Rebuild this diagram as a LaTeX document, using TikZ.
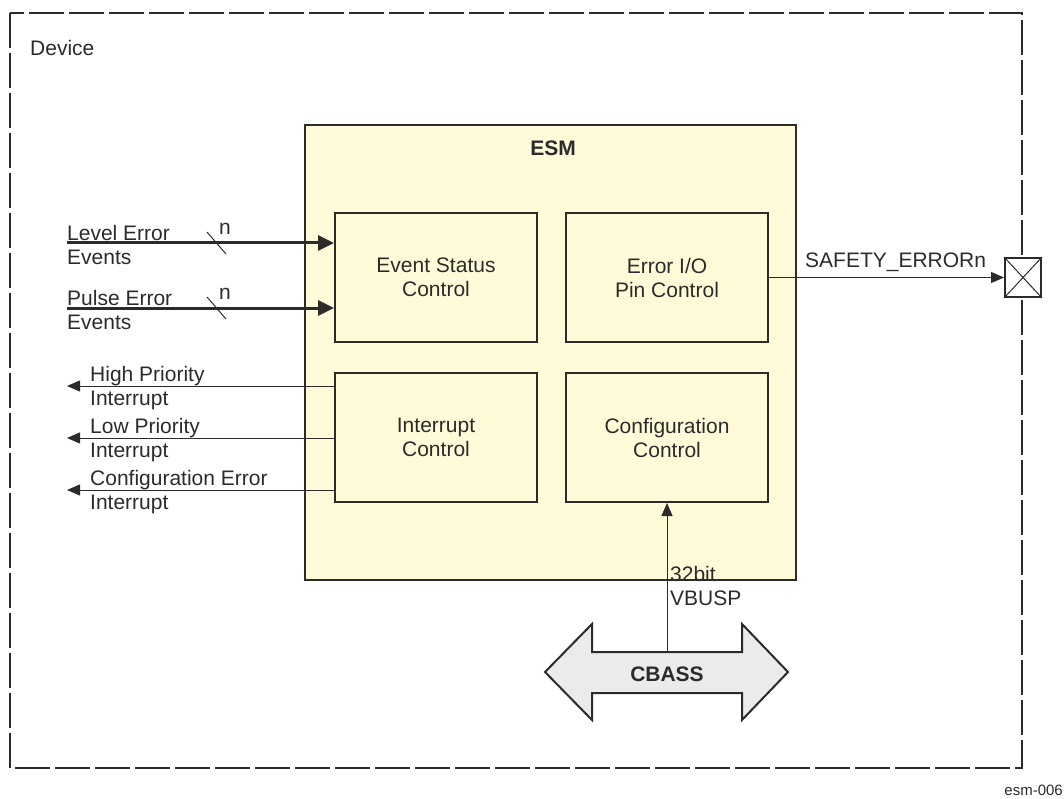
\documentclass[tikz,border=0pt]{standalone}
\usepackage{fontspec}
\setmainfont{Liberation Sans}
\usetikzlibrary{arrows.meta}
\definecolor{esmfill}{HTML}{FFFBD8}
\definecolor{busfill}{HTML}{EBEBEB}
\definecolor{ln}{HTML}{2B2B2B}
\begin{document}
\begin{tikzpicture}[x=1pt,y=-1pt,
  every node/.style={font=\fontsize{21}{24}\selectfont, text=ln},
  blk/.style={draw=ln, line width=2pt, fill=esmfill, align=center, inner sep=0pt},
  thick arrow/.style={draw=ln, line width=3pt, -{Triangle[length=16pt,width=15pt]}},
  thin arrow/.style={draw=ln, line width=1pt, -{Triangle[length=13pt,width=11pt]}},
  lbl/.style={align=left, anchor=west, inner sep=0pt}]
\useasboundingbox (0,0) rectangle (1064,799);
% device border
\draw[ln, line width=2.6pt, dash pattern=on 35pt off 5pt] (10,13) rectangle (1022,768);
\node[anchor=west, inner sep=0pt] (dev) at (30,48) {Device};
% ESM
\node[blk, minimum width=491pt, minimum height=455pt] (esm) at (550.5,352.5) {};
\node[font=\bfseries\fontsize{21}{24}\selectfont] (esmt) at (553,148) {ESM};
\node[blk, minimum width=202pt, minimum height=129pt] (esc) at (436,277.5) {Event Status\\Control};
\node[blk, minimum width=202pt, minimum height=129pt] (eio) at (667,277.5) {Error I/O\\Pin Control};
\node[blk, minimum width=202pt, minimum height=129pt] (ic) at (436,437.5) {Interrupt\\Control};
\node[blk, minimum width=202pt, minimum height=129pt] (cc) at (667,437.5) {Configuration\\Control};
% inputs
\coordinate (le) at (67,243);
\coordinate (pe) at (67,308);
\draw[thick arrow] (le) -- (esc.west |- le);
\draw[thick arrow] (pe) -- (esc.west |- pe);
\node[lbl] (lel) at (67,245) {Level Error\\Events};
\node[lbl] (pel) at (67,310) {Pulse Error\\Events};
\coordinate (s1a) at (207,232); \coordinate (s1b) at (226,254);
\coordinate (s2a) at (207,297); \coordinate (s2b) at (226,319);
\draw[ln, line width=1pt] (s1a) -- (s1b);
\draw[ln, line width=1pt] (s2a) -- (s2b);
\node[inner sep=0pt] (n1) at (225,229) {n};
\node[inner sep=0pt] (n2) at (225,294) {n};
% interrupts
\coordinate (hp) at (67,386);
\coordinate (lp) at (67,438);
\coordinate (ce) at (67,490);
\draw[thin arrow] (ic.west |- hp) -- (hp);
\draw[thin arrow] (ic.west |- lp) -- (lp);
\draw[thin arrow] (ic.west |- ce) -- (ce);
\node[lbl] (hpl) at (90,388) {High Priority\\Interrupt};
\node[lbl] (lpl) at (90,440) {Low Priority\\Interrupt};
\node[lbl] (cel) at (90,492) {Configuration Error\\Interrupt};
% safety error pin
\node[draw=ln, fill=white, line width=2pt, minimum width=36pt, minimum height=39pt, inner sep=0pt] (pin) at (1023,277.5) {};
\draw[ln, line width=1pt] (pin.north west) -- (pin.south east);
\draw[ln, line width=1pt] (pin.south west) -- (pin.north east);
\draw[thin arrow] (eio.east |- pin.west) -- (pin.west);
\node[anchor=west, inner sep=0pt] (sel) at (805,262) {SAFETY\_ERRORn};
% CBASS
\draw[ln, line width=2pt, fill=busfill, line join=miter]
  (545,672) -- (592,624) -- (592,652) -- (742,652) -- (742,624) -- (788,672)
  -- (742,720) -- (742,693) -- (592,693) -- (592,720) -- cycle;
\node[font=\bfseries\fontsize{21}{24}\selectfont] (cb) at (667,674) {CBASS};
\coordinate (cbtop) at (667,652);
\draw[thin arrow] (cbtop) -- (cc.south);
\node[lbl] (vb) at (670,586) {32bit\\VBUSP};
\node[anchor=east, inner sep=0pt, font=\fontsize{15}{18}\selectfont] (fig) at (1063,790) {esm-006};
\end{tikzpicture}
\end{document}
